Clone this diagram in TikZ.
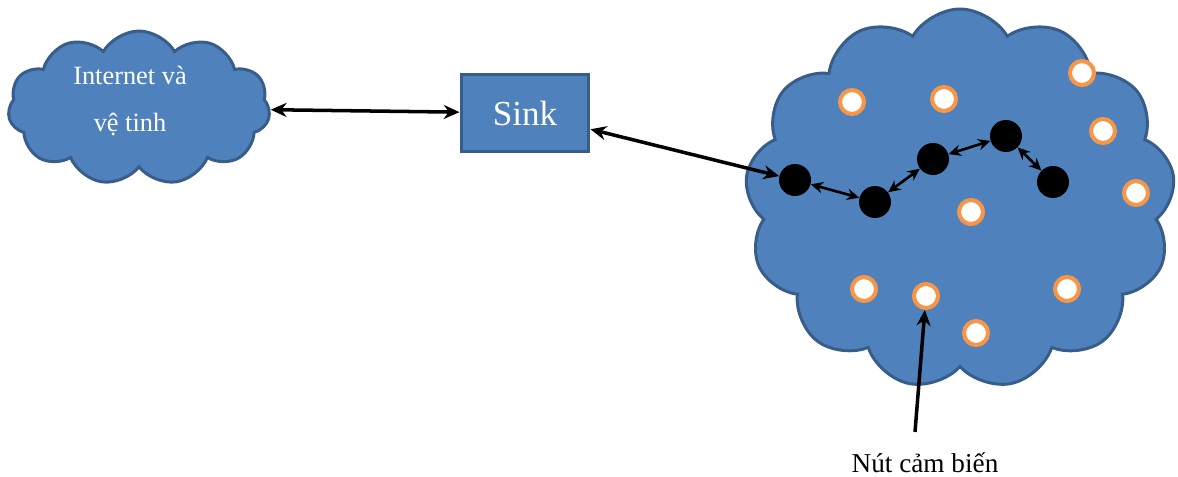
\documentclass[tikz,border=0pt]{standalone}
\usepackage{fontspec}
\setmainfont{Liberation Serif}
\usetikzlibrary{arrows.meta, shapes.symbols}

\definecolor{cloudfill}{HTML}{4F81BD}
\definecolor{cloudline}{HTML}{385D8A}
\definecolor{ringorange}{HTML}{F79646}

\begin{document}
\begin{tikzpicture}[
    x=0.02cm, y=-0.02cm,
    >={Stealth[length=9pt, width=8pt]},
    puff/.style={cloud, cloud puffs=11, cloud puff arc=120, draw=cloudline,
                 fill=cloudfill, line width=1.7pt, text=white},
    hop/.style={circle, fill=black, minimum size=0.64cm, inner sep=0pt},
    sensor/.style={circle, draw=ringorange, fill=white, line width=2.3pt,
                   minimum size=0.48cm, inner sep=0pt},
    link/.style={<->, line width=2pt},
    shortlink/.style={{Stealth[length=7pt, width=6.5pt]}-{Stealth[length=7pt, width=6.5pt]},
                      line width=1.5pt}
  ]
  \useasboundingbox (0,0) rectangle (1178,477);

  % clouds and the sink
  \node[puff, minimum width=5.24cm, minimum height=3.08cm] (inet) at (139,108) {};
  \node[text=white, font=\fontsize{15}{26.5}\selectfont, align=center]
    (inettext) at (130,101) {Internet và\\vệ tinh};
  \node[puff, cloud puffs=13, minimum width=8.6cm, minimum height=7.6cm] (field)
    at (960,199) {};
  \node[draw=cloudline, fill=cloudfill, line width=1.7pt, text=white,
        minimum width=2.56cm, minimum height=1.54cm,
        font=\fontsize{20}{24}\selectfont] (sink) at (525,113) {Sink};

  % sensor nodes
  \node[sensor] (s1) at (852,102) {};
  \node[sensor] (s2) at (944,99) {};
  \node[sensor] (s3) at (1082,73) {};
  \node[sensor] (s4) at (1103,131) {};
  \node[sensor] (s5) at (1136,193) {};
  \node[sensor] (s6) at (971,212) {};
  \node[sensor] (s7) at (864,289) {};
  \node[sensor] (s8) at (926,296) {};
  \node[sensor] (s9) at (976,333) {};
  \node[sensor] (s10) at (1067,289) {};

  % routing path
  \node[hop] (h1) at (795,180) {};
  \node[hop] (h2) at (875,202) {};
  \node[hop] (h3) at (933,159) {};
  \node[hop] (h4) at (1006,136) {};
  \node[hop] (h5) at (1053,182) {};

  \draw[link] (inet) -- (sink);
  \draw[link] (sink) -- (h1);
  \draw[shortlink] (h1) -- (h2);
  \draw[shortlink] (h2) -- (h3);
  \draw[shortlink] (h3) -- (h4);
  \draw[shortlink] (h4) -- (h5);

  \node[font=\fontsize{15.5}{18}\selectfont] (lbl) at (925,463) {Nút cảm biến};
  \coordinate (tail) at (915,432);
  \draw[->, line width=2pt] (tail) -- (s8);
\end{tikzpicture}
\end{document}
